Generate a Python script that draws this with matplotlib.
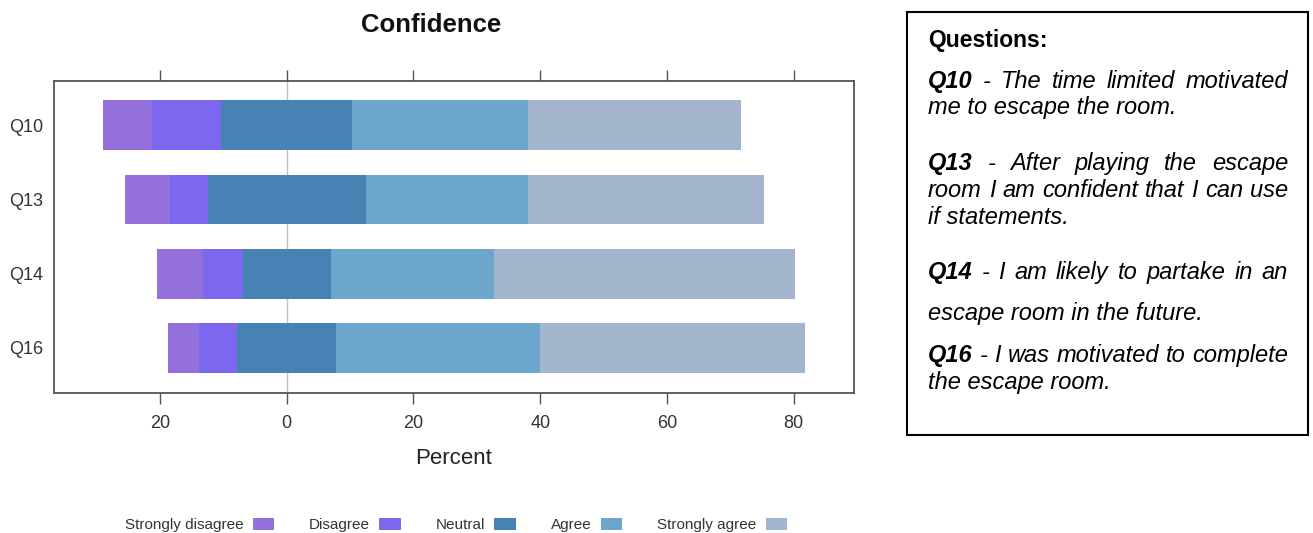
import matplotlib
matplotlib.use("Agg")
import matplotlib.pyplot as plt
from matplotlib.patches import Patch, Rectangle
import numpy as np

plt.rcParams['font.family'] = ['Liberation Sans', 'DejaVu Sans']

# data (percent of answers)
questions = ['Q10', 'Q13', 'Q14', 'Q16']
levels = ['Strongly disagree', 'Disagree', 'Neutral', 'Agree', 'Strongly agree']
strongly_disagree = [7.7, 7.0, 7.15, 4.9]
disagree = [11.0, 6.0, 6.3, 6.0]
neutral = [20.6, 24.9, 13.9, 15.6]
agree = [27.7, 25.7, 25.75, 32.15]
strongly_agree = [33.7, 37.1, 47.5, 41.85]
colors = ['#9370DB', '#7B68EE', '#4682B4', '#6CA6CD', '#A2B5CD']

W, H = 1313, 533
fig = plt.figure(figsize=(W / 100, H / 100), dpi=100)

ax = fig.add_axes([54 / W, 1 - 392.5 / H, 800 / W, 311.8 / H])

ypos = np.arange(len(questions))[::-1]  # Q10 on top
sd = np.array(strongly_disagree)
d = np.array(disagree)
n = np.array(neutral)
a = np.array(agree)
sa = np.array(strongly_agree)

h = 0.67
ax.axvline(0, color='#c0c0c0', lw=1, zorder=0)
ax.barh(ypos, sd, left=-n / 2 - d - sd, height=h, color=colors[0], zorder=2)
ax.barh(ypos, d, left=-n / 2 - d, height=h, color=colors[1], zorder=2)
ax.barh(ypos, n, left=-n / 2, height=h, color=colors[2], zorder=2)
ax.barh(ypos, a, left=n / 2, height=h, color=colors[3], zorder=2)
ax.barh(ypos, sa, left=n / 2 + a, height=h, color=colors[4], zorder=2)

ax.set_xlim(-36.7, 89.5)
ax.set_ylim(-0.6, 3.6)
ax.set_yticks(ypos)
ax.set_yticklabels(questions)
ax.set_xticks([-20, 0, 20, 40, 60, 80])
ax.set_xticklabels(['20', '0', '20', '40', '60', '80'])

for s in ax.spines.values():
    s.set_color('#555555')
    s.set_linewidth(1.3)
ax.tick_params(axis='x', top=True, bottom=True, direction='out', length=8,
               width=1, color='#555555', labelsize=13, labelcolor='#333333', pad=8)
ax.tick_params(axis='y', length=0, labelsize=13, labelcolor='#333333', pad=8)
ax.set_xlabel('Percent', fontsize=16, color='#222222', labelpad=12)

fig.text(431 / W, 1 - 25 / H, 'Confidence', fontsize=18.5, fontweight='bold',
         ha='center', va='center', color='#111111')

handles = [Patch(facecolor=c, label=l) for c, l in zip(colors, levels)]
leg = fig.legend(handles=handles, loc='center', bbox_to_anchor=(456 / W, 1 - 525 / H),
                 ncol=5, frameon=False, markerfirst=False, fontsize=11,
                 handlelength=1.4, handleheight=0.9, handletextpad=0.6,
                 columnspacing=2.3)
for t in leg.get_texts():
    t.set_color('#333333')

# question box on the right
fig.patches.append(Rectangle((907 / W, 1 - 435 / H), 401 / W, 423 / H,
                             transform=fig.transFigure, fill=False,
                             edgecolor='black', lw=1.5))

FS = 17
x0, x1 = 928, 1288
renderer = fig.canvas.get_renderer()


def justified(parts, y):
    objs = []
    for word, bold in parts:
        t = fig.text(0, 1 - y / H, word, fontsize=FS, style='italic',
                     weight='bold' if bold else 'normal', va='baseline')
        objs.append(t)
    widths = [t.get_window_extent(renderer).width for t in objs]
    gap = (x1 - x0 - sum(widths)) / (len(objs) - 1)
    x = x0
    for t, w in zip(objs, widths):
        t.set_x(x / W)
        x += w + gap


def plain(text, y):
    fig.text(x0 / W, 1 - y / H, text, fontsize=FS, style='italic', va='baseline')


fig.text(x0 / W, 1 - 46.7 / H, 'Questions:', fontsize=16.5, weight='bold', va='baseline')
justified([('Q10', 1), ('-', 0), ('The', 0), ('time', 0), ('limited', 0), ('motivated', 0)], 88.3)
plain('me to escape the room.', 114)
justified([('Q13', 1), ('-', 0), ('After', 0), ('playing', 0), ('the', 0), ('escape', 0)], 170)
justified([(w, 0) for w in 'room I am confident that I can use'.split()], 196.7)
plain('if statements.', 224)
justified([('Q14', 1), ('-', 0)] + [(w, 0) for w in 'I am likely to partake in an'.split()], 279.3)
plain('escape room in the future.', 320)
justified([('Q16', 1), ('-', 0)] + [(w, 0) for w in 'I was motivated to complete'.split()], 361.7)
plain('the escape room.', 389.3)

fig.savefig('out.png', dpi=100)
